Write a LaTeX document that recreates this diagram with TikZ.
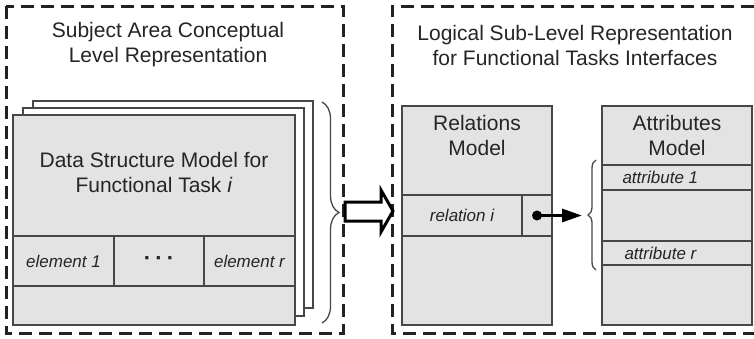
\documentclass[tikz,border=0pt]{standalone}
\usepackage{fontspec}
\setmainfont{Liberation Sans}
\usetikzlibrary{decorations.pathreplacing,arrows.meta}
\definecolor{lineg}{HTML}{474747}
\definecolor{fillg}{HTML}{E3E3E3}
\definecolor{txt}{HTML}{252525}
\definecolor{framec}{HTML}{222222}
\begin{document}
\begin{tikzpicture}[x=1pt,y=-1pt,
  box/.style={draw=lineg, line width=1.3pt, fill=fillg, inner sep=0pt, outer sep=0pt, anchor=north west},
  card/.style={box, fill=white},
  frame/.style={draw=framec, line width=3pt, dash pattern=on 13pt off 7pt},
  title/.style={font=\fontsize{21}{25}\selectfont, text=txt, align=center},
  itl/.style={font=\fontsize{17}{20}\selectfont\itshape, text=txt},
  brc/.style={draw=lineg, line width=1.3pt, decorate},
  ptrarrow/.style={draw=black, line width=3pt, -{Triangle[length=20pt,width=13pt]}}
]
\useasboundingbox (0,0) rectangle (754,338);

% frames
\draw[frame] (6,6) rectangle (343,333);
\draw[frame] (754,6) -- (392,6) -- (392,333) -- (754,333);

% titles
\node[title] (ltitle) at (168,45) {Subject Area Conceptual\\Level Representation};
\node[title] (rtitle) at (575,45) {Logical Sub-Level Representation\\for Functional Tasks Interfaces};

% stacked cards
\node[card, minimum width=280, minimum height=207] (back) at (33,101) {};
\node[card, minimum width=281, minimum height=208] (middle) at (23,108) {};
\node[box, minimum width=282, minimum height=210] (front) at (13,115) {};
\node[title] (ftitle) at (154,172) {Data Structure Model for\\Functional Task \textit{i}};
\node[box, itl, minimum width=101, minimum height=50] (e1) at (13,236) {element 1};
\node[box, font=\fontsize{22}{24}\selectfont\bfseries, text=txt, minimum width=90, minimum height=50] (edots) at (114,236) {\raisebox{-4.5pt}{·\hspace{4.2pt}·\hspace{4.2pt}·}};
\node[box, itl, minimum width=91, minimum height=50] (er) at (204,236) {element r};

% left brace
\coordinate (lb1) at (322,102);
\coordinate (lb2) at (322,323);
\draw[brc, decoration={brace, amplitude=17pt}] (lb1) -- (lb2);

% hollow arrow
\draw[draw=black, line width=3pt, fill=white, line join=miter]
  (345,202) -- (381,202) -- (381,190) -- (393,211) -- (381,232) -- (381,221) -- (345,221) -- cycle;

% relations model
\node[box, minimum width=150, minimum height=219] (rel) at (402,106) {};
\node[title] (reltitle) at (477,135) {Relations\\Model};
\node[box, itl, minimum width=120, minimum height=41] (reli) at (402,195) {relation i};
\node[box, minimum width=30, minimum height=41] (ptr) at (522,195) {};

% attributes model
\node[box, minimum width=150, minimum height=219] (att) at (602,106) {};
\node[title] (atttitle) at (677,135) {Attributes\\Model};
\node[box, minimum width=150, minimum height=25] (a1) at (602,165) {};
\node[itl, anchor=west] (a1t) at (619,177.5) {attribute 1};
\node[box, minimum width=150, minimum height=24] (ar) at (602,241) {};
\node[itl, anchor=west] (art) at (621,253) {attribute r};

% right brace
\coordinate (rb1) at (596,270);
\coordinate (rb2) at (596,160);
\draw[brc, decoration={brace, amplitude=8pt}] (rb1) -- (rb2);
\coordinate (rbtip) at (588,215.5);

% pointer
\fill[black] (ptr.center) circle (5);
\draw[ptrarrow, shorten >=6pt] (ptr.center) -- (rbtip);
\end{tikzpicture}
\end{document}
